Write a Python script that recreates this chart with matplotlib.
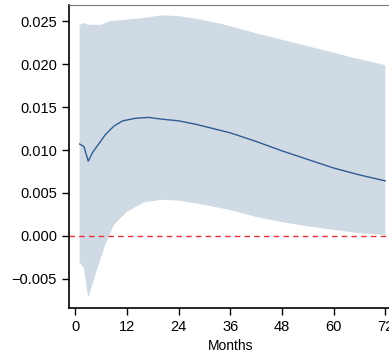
import numpy as np
import matplotlib.pyplot as plt

# impulse response
irf_months = [1, 2, 3, 4, 5, 7, 9, 11, 14, 17, 20, 24, 28, 32, 36, 42, 48, 54, 60, 66, 72]
irf_values = [0.0107, 0.0104, 0.0087, 0.0097, 0.0104, 0.0118, 0.0128, 0.0134, 0.0137, 0.0138,
              0.0136, 0.0134, 0.0130, 0.0125, 0.0120, 0.0110, 0.0099, 0.0089, 0.0079, 0.0071, 0.0064]

# confidence band
upper_months = [1, 2, 3, 4, 6, 8, 10, 12, 16, 20, 24, 28, 34, 42, 50, 58, 65, 72]
upper_values = [0.0246, 0.0248, 0.0246, 0.0246, 0.0246, 0.0250, 0.0251, 0.0252, 0.0254, 0.0257,
                0.0256, 0.0253, 0.0247, 0.0236, 0.0226, 0.0216, 0.0207, 0.0199]
lower_months = [1, 2, 3, 5, 7, 9, 12, 16, 20, 24, 30, 36, 42, 48, 54, 60, 66, 72]
lower_values = [-0.0031, -0.0038, -0.0072, -0.0040, -0.0010, 0.0013, 0.0028, 0.0039, 0.0042,
                0.0041, 0.0036, 0.0030, 0.0022, 0.0016, 0.0011, 0.0007, 0.0003, 0.0001]

x_ticks = [0, 12, 24, 36, 48, 60, 72]
y_ticks = [-0.005, 0.0, 0.005, 0.010, 0.015, 0.020, 0.025]

plt.rcParams['font.family'] = ['Liberation Sans', 'DejaVu Sans']

fig = plt.figure(figsize=(3.89, 3.58), dpi=100)
ax = fig.add_axes([0.177, 0.14, 0.83, 0.846])

band_x = np.concatenate([upper_months, lower_months[::-1]])
band_y = np.concatenate([upper_values, lower_values[::-1]])
ax.fill(band_x, band_y, color='#d0dae5', lw=0, zorder=1)
ax.axhline(0, color='#e8323a', ls=(0, (4, 3)), lw=1.0, zorder=2)
ax.plot(irf_months, irf_values, color='#2f5b94', lw=1.0, zorder=3)

ax.set_xlim(-1.5, 73.5)
ax.set_ylim(-0.0084, 0.0269)
ax.set_xticks(x_ticks)
ax.set_yticks(y_ticks)
ax.set_yticklabels(['{:.3f}'.format(v).replace('-', '\u2212') for v in y_ticks])
ax.tick_params(labelsize=10.5, length=5, width=1, colors='black')
ax.set_xlabel('Months', fontsize=10)

ax.spines['right'].set_visible(False)
ax.spines['top'].set_color('#777777')
ax.spines['left'].set_linewidth(1.2)
ax.spines['bottom'].set_linewidth(1.2)

plt.savefig('out.png', dpi=100)
